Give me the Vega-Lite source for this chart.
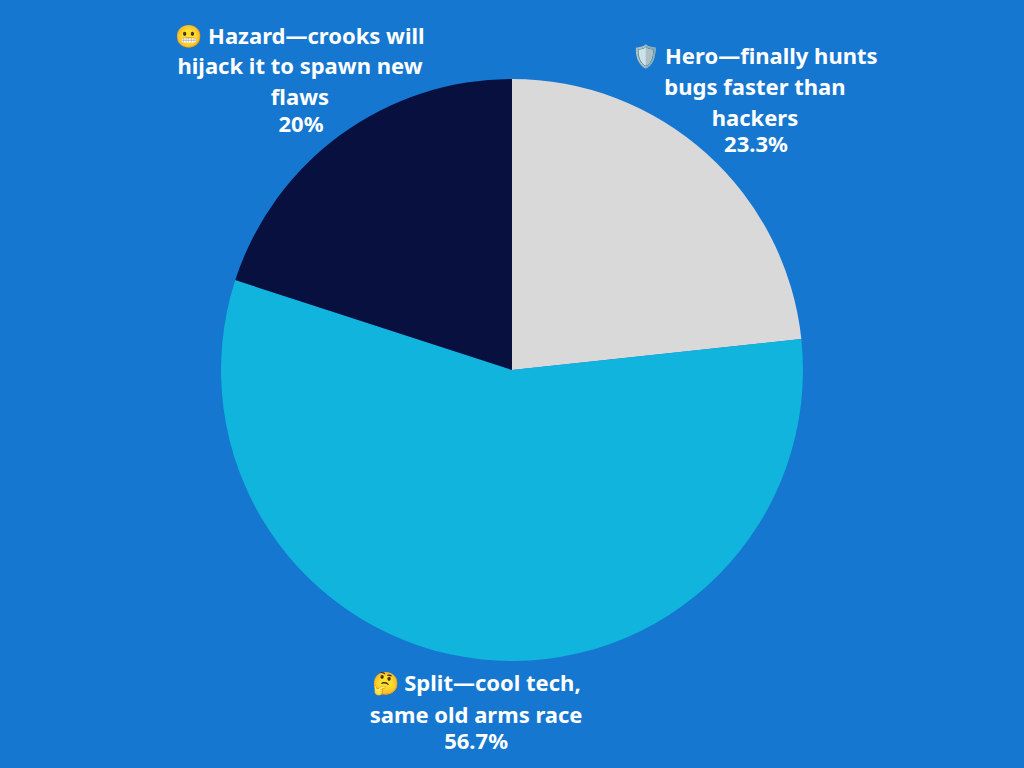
{"$schema":"https://vega.github.io/schema/vega-lite/v6.json","width":1024,"height":740,"autosize":"none","padding":{"left":0,"top":0,"right":0,"bottom":28},"background":"#1577D0","view":{"stroke":null},"data":{"values":[{"name":"Hero","pct":23.3,"share":"23.3%","ord":1,"lines":["🛡️ Hero—finally hunts","bugs faster than","hackers"]},{"name":"Split","pct":56.7,"share":"56.7%","ord":2,"lines":["🤔 Split—cool tech,","same old arms race"]},{"name":"Hazard","pct":20,"share":"20%","ord":3,"lines":["😬 Hazard—crooks will","hijack it to spawn new","flaws"]}]},"transform":[{"stack":"pct","sort":[{"field":"ord","order":"ascending"}],"as":["start","end"]},{"calculate":"(datum.start+datum.end)/2","as":"mid"}],"config":{"text":{"font":"Noto Sans","fontWeight":700,"fontSize":22,"color":"#FFFFFF","align":"center","baseline":"middle"}},"layer":[{"mark":{"type":"arc","outerRadius":291,"innerRadius":0},"encoding":{"theta":{"field":"start","type":"quantitative","scale":{"domain":[0,100]}},"theta2":{"field":"end"},"color":{"field":"name","type":"nominal","legend":null,"scale":{"domain":["Hero","Split","Hazard"],"range":["#D9D9D9","#10B4DC","#07103F"]}}}},{"transform":[{"filter":"datum.name=='Hero'"}],"encoding":{"theta":{"field":"mid","type":"quantitative","scale":{"domain":[0,100]}}},"layer":[{"mark":{"type":"text","radius":365,"lineHeight":31,"dy":-41,"dx":-1},"encoding":{"text":{"field":"lines"}}},{"mark":{"type":"text","radius":365,"dy":47},"encoding":{"text":{"field":"share"}}}]},{"transform":[{"filter":"datum.name=='Split'"}],"encoding":{"theta":{"field":"mid","type":"quantitative","scale":{"domain":[0,100]}}},"layer":[{"mark":{"type":"text","radius":347,"lineHeight":32,"dy":-31},"encoding":{"text":{"field":"lines"}}},{"mark":{"type":"text","radius":347,"dy":27},"encoding":{"text":{"field":"share"}}}]},{"transform":[{"filter":"datum.name=='Hazard'"}],"encoding":{"theta":{"field":"mid","type":"quantitative","scale":{"domain":[0,100]}}},"layer":[{"mark":{"type":"text","radius":359,"lineHeight":30.5,"dy":-43,"dx":-1},"encoding":{"text":{"field":"lines"}}},{"mark":{"type":"text","radius":359,"dy":45},"encoding":{"text":{"field":"share"}}}]}]}
